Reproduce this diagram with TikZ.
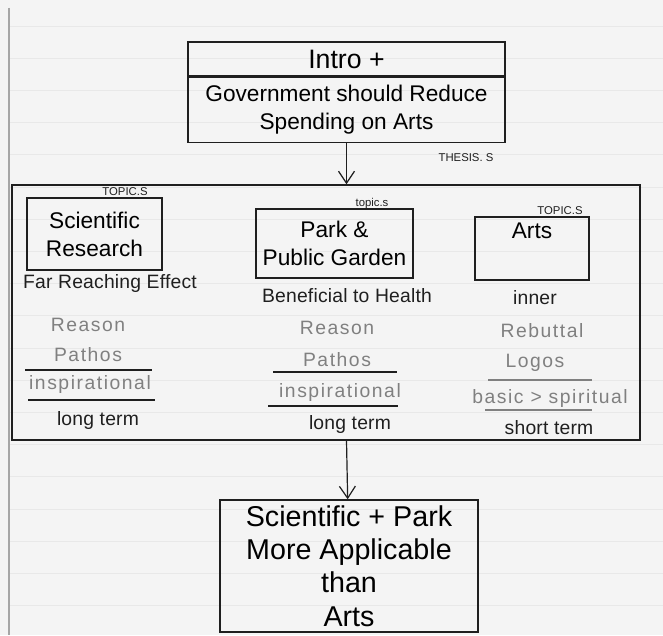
\documentclass[tikz,border=0pt]{standalone}
\usepackage{fontspec}
\setmainfont{Liberation Sans}
\usetikzlibrary{arrows.meta,positioning}
\definecolor{ink}{gray}{0.12}
\definecolor{pencil}{gray}{0.5}
\definecolor{paper}{gray}{0.955}
\tikzset{
  box/.style={
    draw=ink,
    line width=1.1pt,
    align=center,
    inner sep=2pt,
    font=\fontsize{17}{21}\selectfont
  },
  edge/.style={-{Straight Barb[length=9pt,width=12pt]}, line width=0.9pt, draw=ink},
  tag/.style={inner sep=1pt, font=\fontsize{8.5}{9}\selectfont, text=ink},
  point/.style={inner sep=1pt, font=\fontsize{14.5}{16}\selectfont\addfontfeature{LetterSpace=1}, text=ink},
  faint/.style={point, font=\fontsize{14.5}{16}\selectfont\addfontfeature{LetterSpace=8}, text=pencil},
  rule/.style={draw=ink, line width=0.8pt},
  faintrule/.style={draw=pencil, line width=0.8pt},
  ruled/.style={draw=black!9, line width=0.6pt}
}
\newcommand{\sheet}{%
  \fill[paper] (0,0) rectangle (663,635);
  \foreach \k in {0,...,18} \draw[ruled] (9,{26+32.2*\k}) -- (663,{26+32.2*\k});
  \draw[black!35, line width=0.8pt] (9,8) -- (9,635);}

\begin{document}
\begin{tikzpicture}[x=0.75pt, y=-0.75pt]
  \useasboundingbox (0,0) rectangle (663,635);
  \sheet
  % thesis
  \node[box, minimum width=317*0.75pt, minimum height=34*0.75pt, font=\fontsize{20}{22}\selectfont] (intro) at (346.5,59) {Intro +};
  \node[box, minimum width=317*0.75pt, minimum height=65*0.75pt, below=0pt of intro] (gov)
    {Government should Reduce\\Spending on Arts};
  \node[tag] (thesis) at (466,158) {THESIS. S};
  % body paragraphs
  \node[draw=ink, line width=1.1pt, minimum width=628*0.75pt, minimum height=255*0.75pt] (frame) at (326,312.5) {};
  \draw[edge] (gov) -- (gov |- frame.north);

  \node[box, minimum width=135*0.75pt, minimum height=72*0.75pt] (sci) at (94.5,234) {Scientific\\Research};
  \node[box, minimum width=157*0.75pt, minimum height=69*0.75pt] (park) at (334.5,243.5) {Park \&\\Public Garden};
  \node[box, minimum width=114*0.75pt, minimum height=63*0.75pt] (arts) at (532,248.5) {Arts\\[6pt]};
  \node[tag] (sciT) at (125,192) {TOPIC.S};
  \node[tag] (parkT) at (372,204) {topic.s};
  \node[tag] (artsT) at (560,211) {TOPIC.S};

  \node[point] (sci1) at (110,283) {Far Reaching Effect};
  \node[faint] (sci2) at (88,325) {Reason};
  \node[faint] (sci3) at (88,355) {Pathos};
  \node[faint] (sci4) at (90,384) {inspirational};
  \node[point] (sci5) at (98,420) {long term};
  \draw[rule] (25,370) -- (152,370);
  \draw[rule] (28,400) -- (155,400);

  \node[point] (park1) at (347,296) {Beneficial to Health};
  \node[faint] (park2) at (337,328) {Reason};
  \node[faint] (park3) at (337,360) {Pathos};
  \node[faint] (park4) at (340,392) {inspirational};
  \node[point] (park5) at (350,424) {long term};
  \draw[rule] (273,372) -- (397,372);
  \draw[rule] (268,406) -- (398,406);

  \node[point] (arts1) at (535,298) {inner};
  \node[faint] (arts2) at (542,331) {Rebuttal};
  \node[faint] (arts3) at (535,363) {Logos};
  \node[faint] (arts4) at (550,398) {basic > spiritual};
  \node[point] (arts5) at (549,428) {short term};
  \draw[faintrule] (488,380) -- (592,380);
  \draw[faintrule] (485,410) -- (592,410);
  % conclusion
  \node[box, minimum width=258*0.75pt, minimum height=132*0.75pt, font=\fontsize{21.5}{25}\selectfont] (final) at (349,566)
    {Scientific + Park\\More Applicable\\than\\Arts};
  \draw[edge] (frame.south -| gov) -- (final);
\end{tikzpicture}
\end{document}
